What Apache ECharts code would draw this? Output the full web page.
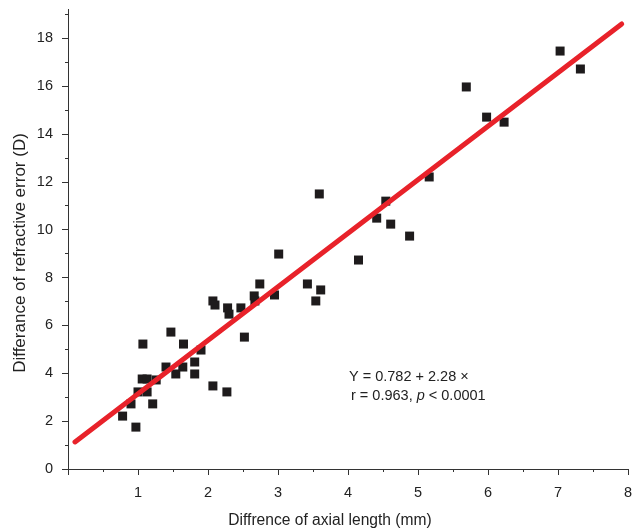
<!DOCTYPE html>
<html>
<head>
<meta charset="utf-8">
<script src="https://cdn.jsdelivr.net/npm/echarts@6/dist/echarts.min.js"></script>
<style>
html,body{margin:0;padding:0;background:#fff;}
#chart{width:638px;height:532px;}
</style>
</head>
<body>
<div id="chart"></div>
<script>
// Scatter points: difference of axial length (mm)
var axialDiff = [0.78, 0.90, 0.97, 1.00, 1.06, 1.13, 1.13, 1.26, 1.21, 1.07, 1.40, 1.47, 1.54, 1.64, 1.65, 1.81, 1.81, 1.90,
  2.07, 2.07, 2.10, 2.27, 2.28, 2.30, 2.47, 2.52, 2.66, 2.67, 2.74, 2.95, 3.01, 3.42, 3.54, 3.59, 3.61,
  4.15, 4.41, 4.54, 4.61, 4.88, 5.16, 5.69, 5.98, 6.23, 7.03, 7.32];
// Scatter points: difference of refractive error (D)
var refractDiff = [2.21, 2.72, 1.75, 3.22, 3.76, 3.76, 3.22, 3.72, 2.72, 5.22, 4.26, 5.72, 3.97, 4.26, 5.22, 4.47, 3.97, 4.97,
  3.47, 7.02, 6.85, 3.22, 6.73, 6.47, 6.73, 5.51, 7.23, 7.02, 7.73, 7.27, 8.98, 7.73, 7.02, 11.49, 7.48,
  8.73, 10.48, 11.19, 10.23, 9.73, 12.20, 15.96, 14.70, 14.49, 17.46, 16.71];
// Regression line endpoints
var fitX = [0.10, 7.91];
var fitY = [1.13, 18.59];
var xTickLabels = ['1','2','3','4','5','6','7','8'];
var yTickLabels = ['0','2','4','6','8','10','12','14','16','18'];

var points = axialDiff.map(function (x, i) { return [x, refractDiff[i]]; });
var fitLine = fitX.map(function (x, i) { return [x, fitY[i]]; });
var yTickValues = yTickLabels.map(Number);

var chart = echarts.init(document.getElementById('chart'));
var font = 'Liberation Sans, Arial, Helvetica, sans-serif';
chart.setOption({
  animation: false,
  backgroundColor: '#fff',
  grid: { left: 68, right: 10, top: 9.4, bottom: 63, containLabel: false },
  xAxis: {
    type: 'value', min: 0, max: 8, interval: 1,
    axisLine: { show: true, lineStyle: { color: '#333', width: 1 } },
    axisTick: { show: true, length: 6, inside: false, lineStyle: { color: '#333' } },
    minorTick: { show: true, splitNumber: 2, length: 3, lineStyle: { color: '#333' } },
    splitLine: { show: false },
    axisLabel: {
      margin: 16, color: '#222', fontSize: 14.5, fontFamily: font,
      formatter: function (v) { return xTickLabels.indexOf(String(v)) >= 0 ? String(v) : ''; }
    }
  },
  yAxis: {
    type: 'value', min: 0, max: 19.2, interval: 2,
    axisLine: { show: true, onZero: false, lineStyle: { color: '#333', width: 1 } },
    axisTick: { show: true, length: 6, customValues: yTickValues, lineStyle: { color: '#333' } },
    minorTick: { show: true, splitNumber: 2, length: 3, lineStyle: { color: '#333' } },
    splitLine: { show: false },
    axisLabel: {
      margin: 15, color: '#222', fontSize: 14.5, fontFamily: font,
      customValues: yTickValues,
      formatter: function (v) { return yTickLabels.indexOf(String(v)) >= 0 ? String(v) : ''; }
    }
  },
  series: [
    {
      type: 'scatter', data: points, symbol: 'rect', symbolSize: 9,
      itemStyle: { color: '#1e1b1c', opacity: 1 }, z: 2
    },
    {
      type: 'line', data: fitLine, showSymbol: false, symbol: 'none',
      lineStyle: { color: '#e8222a', width: 5, cap: 'round' }, z: 3
    }
  ],
  graphic: [
    {
      type: 'text', rotation: Math.PI / 2, position: [20, 253],
      style: { text: 'Differance of refractive error (D)', fill: '#222', font: '17px ' + font,
        align: 'center', verticalAlign: 'middle', x: 0, y: 0 }
    },
    {
      type: 'text', position: [330, 521],
      style: { text: 'Diffrence of axial length (mm)', fill: '#222', font: '15.6px ' + font,
        align: 'center', verticalAlign: 'middle' }
    },
    {
      type: 'text', position: [349, 377],
      style: { text: 'Y = 0.782 + 2.28 ×', fill: '#222', font: '14.5px ' + font,
        align: 'left', verticalAlign: 'middle' }
    },
    {
      type: 'text', position: [351, 396],
      style: {
        text: '{n|r = 0.963, }{i|p}{n| < 0.0001}',
        verticalAlign: 'middle', align: 'left',
        rich: {
          n: { fill: '#222', font: '14.5px ' + font },
          i: { fill: '#222', font: 'italic 14.5px ' + font }
        }
      }
    }
  ]
});
</script>
</body>
</html>
